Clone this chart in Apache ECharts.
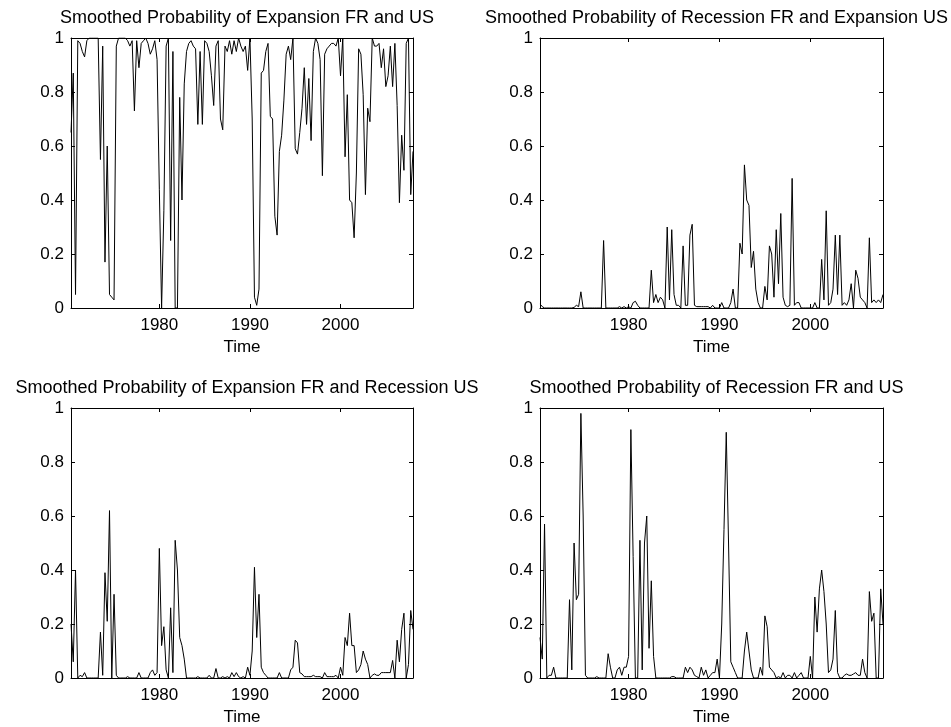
<!DOCTYPE html>
<html>
<head>
<meta charset="utf-8">
<script src="https://cdn.jsdelivr.net/npm/echarts@6/dist/echarts.min.js"></script>
<style>
  html, body { margin: 0; padding: 0; background: #ffffff; }
  #chart { width: 951px; height: 727px; }
</style>
</head>
<body>
<div id="chart"></div>
<script>
// Quarterly smoothed regime probabilities, 1970Q2 .. 2008Q1
const startYear = 1970.25;
const stepYears = 0.25;
const yearTicks = [1980, 1990, 2000];

const titles = [
  'Smoothed Probability of Expansion FR and US',
  'Smoothed Probability of Recession FR and Expansion US',
  'Smoothed Probability of Expansion FR and Recession US',
  'Smoothed Probability of Recession FR and US'
];

const expFRexpUS = [
  0.65, 0.87, 0.05, 0.99, 0.98, 0.95, 0.93, 0.99,
  1.00, 1.00, 1.00, 1.00, 1.00, 0.55, 0.97, 0.17,
  0.60, 0.05, 0.04, 0.03, 0.97, 1.00, 1.00, 1.00,
  1.00, 0.99, 0.97, 0.99, 0.73, 0.99, 0.89, 0.98,
  0.99, 1.00, 0.98, 0.94, 0.96, 0.99, 0.92, 0.44,
  0.00, 0.36, 0.97, 1.00, 0.25, 0.95, 0.00, 0.00,
  0.78, 0.40, 0.83, 0.95, 0.98, 0.99, 0.97, 0.96,
  0.68, 0.95, 0.68, 0.99, 0.98, 0.95, 0.86, 0.75,
  0.97, 0.99, 0.70, 0.66, 0.97, 0.95, 0.99, 0.94,
  0.99, 0.95, 1.00, 0.97, 0.95, 0.97, 0.88, 1.00,
  0.70, 0.04, 0.01, 0.07, 0.87, 0.88, 0.95, 0.98,
  0.71, 0.70, 0.34, 0.27, 0.58, 0.64, 0.77, 0.94,
  0.97, 0.92, 1.00, 0.59, 0.57, 0.65, 0.74, 0.89,
  0.68, 0.85, 0.62, 0.95, 1.00, 0.98, 0.92, 0.49,
  0.94, 0.96, 0.97, 0.98, 0.98, 0.97, 1.00, 0.86,
  1.00, 0.56, 0.79, 0.40, 0.39, 0.26, 0.50, 0.96,
  0.94, 0.79, 0.42, 0.74, 0.69, 1.00, 0.97, 0.97,
  0.98, 0.89, 0.96, 0.82, 0.86, 0.97, 0.82, 0.98,
  0.75, 0.39, 0.64, 0.51, 0.98, 1.00, 0.42, 0.58
];

const recFRexpUS = [
  0.015, 0.005, 0, 0, 0, 0, 0, 0,
  0, 0, 0, 0, 0, 0, 0, 0.002,
  0.01, 0.005, 0.06, 0, 0, 0, 0, 0,
  0, 0, 0, 0, 0.25, 0, 0, 0,
  0, 0, 0, 0.005, 0, 0.005, 0, 0.005,
  0, 0.02, 0.025, 0.01, 0, 0, 0, 0,
  0, 0.14, 0.02, 0.05, 0.02, 0.04, 0.03, 0,
  0.30, 0.03, 0.29, 0.05, 0.01, 0.01, 0, 0.23,
  0.01, 0.01, 0.27, 0.31, 0.01, 0.005, 0.005, 0.005,
  0.005, 0.005, 0.005, 0, 0.01, 0, 0, 0,
  0.02, 0, 0, 0, 0.02, 0.07, 0, 0,
  0.24, 0.20, 0.53, 0.40, 0.38, 0.15, 0.21, 0.07,
  0.02, 0, 0, 0.08, 0.03, 0.23, 0.20, 0.04,
  0.29, 0.09, 0.35, 0.04, 0.01, 0.005, 0.01, 0.48,
  0.01, 0.02, 0.02, 0, 0, 0, 0, 0,
  0, 0.02, 0, 0, 0.18, 0.03, 0.36, 0.01,
  0.02, 0.07, 0.27, 0.05, 0.27, 0.01, 0.02, 0.01,
  0.03, 0.09, 0, 0.14, 0.11, 0.04, 0.03, 0.02,
  0, 0.26, 0.02, 0.03, 0.02, 0.03, 0.02, 0.05
];

const expFRrecUS = [
  0.20, 0.06, 0.40, 0, 0.01, 0.005, 0.02, 0,
  0, 0, 0, 0, 0, 0.17, 0.01, 0.39,
  0.21, 0.62, 0, 0.31, 0.01, 0, 0, 0,
  0, 0.005, 0, 0, 0, 0, 0.02, 0,
  0, 0, 0, 0.02, 0.03, 0.01, 0.02, 0.48,
  0.12, 0.19, 0.03, 0, 0.26, 0.02, 0.51, 0.40,
  0.15, 0.12, 0.07, 0, 0, 0, 0, 0,
  0.005, 0, 0, 0, 0, 0.01, 0, 0,
  0.035, 0, 0, 0.005, 0, 0.005, 0, 0.02,
  0.005, 0.02, 0.005, 0, 0.005, 0, 0.04, 0.01,
  0.10, 0.41, 0.15, 0.31, 0.04, 0.02, 0.01, 0,
  0, 0, 0, 0, 0.02, 0, 0, 0,
  0, 0.03, 0.04, 0.14, 0.13, 0.02, 0.015, 0.005,
  0.005, 0.005, 0.005, 0.01, 0.005, 0.005, 0.005, 0,
  0.02, 0.005, 0.005, 0.005, 0.005, 0.01, 0, 0.04,
  0.01, 0.15, 0.12, 0.24, 0.12, 0.12, 0.02, 0.03,
  0.05, 0.10, 0.07, 0.05, 0, 0.01, 0.015, 0.01,
  0.01, 0.02, 0.02, 0.02, 0.02, 0.02, 0.065, 0,
  0.14, 0.06, 0.18, 0.24, 0, 0.05, 0.25, 0.18
];

const recFRrecUS = [
  0.15, 0.07, 0.57, 0, 0.01, 0.01, 0.04, 0,
  0, 0, 0, 0, 0, 0.29, 0.03, 0.50,
  0.29, 0.31, 0.98, 0.60, 0.01, 0, 0, 0,
  0, 0.005, 0, 0, 0, 0, 0.09, 0.04,
  0, 0, 0.03, 0.04, 0.01, 0.04, 0.04, 0.08,
  0.92, 0.45, 0, 0, 0.51, 0.03, 0.50, 0.60,
  0.11, 0.36, 0.08, 0, 0, 0, 0, 0,
  0, 0, 0.005, 0.005, 0, 0, 0, 0,
  0.04, 0.02, 0.04, 0.03, 0.01, 0.005, 0, 0.04,
  0.01, 0.03, 0, 0.01, 0.02, 0.02, 0.07, 0,
  0.20, 0.55, 0.91, 0.50, 0.06, 0.04, 0.02, 0,
  0, 0, 0.10, 0.17, 0.10, 0.03, 0, 0,
  0, 0.04, 0.01, 0.23, 0.19, 0.04, 0.03, 0.02,
  0, 0.005, 0, 0.02, 0, 0.01, 0.01, 0,
  0.02, 0, 0.01, 0.02, 0, 0, 0, 0.08,
  0, 0.30, 0.17, 0.33, 0.40, 0.32, 0.20, 0.02,
  0.03, 0.07, 0.25, 0.02, 0, 0, 0.01, 0.015,
  0.01, 0.01, 0.015, 0.02, 0.01, 0.01, 0.07, 0.02,
  0, 0.32, 0.21, 0.24, 0, 0, 0.33, 0.20
];

const panelSeries = [expFRexpUS, recFRexpUS, expFRrecUS, recFRrecUS];

// subplot boxes (pixels)
const boxes = [
  { left: 71,  top: 38,  width: 342, height: 270 },
  { left: 540, top: 38,  width: 343, height: 270 },
  { left: 71,  top: 408, width: 342, height: 270 },
  { left: 540, top: 408, width: 343, height: 270 }
];

const FONT = '"Liberation Sans", Arial, Helvetica, sans-serif';
const INK = '#000000';

const toPairs = arr => arr.map((v, i) => [startYear + i * stepYears, v]);
const yFmt = v => (v === 0 ? '0' : v === 1 ? '1' : v.toFixed(1));

const grid = [], xAxis = [], yAxis = [], series = [], title = [];

boxes.forEach((b, k) => {
  grid.push({ left: b.left, top: b.top, width: b.width, height: b.height,
              containLabel: false, show: false });

  const xBase = {
    type: 'value', gridIndex: k, min: startYear,
    max: startYear + (panelSeries[k].length - 1) * stepYears,
    splitLine: { show: false },
    axisLine: { show: true, onZero: false, lineStyle: { color: INK, width: 1 } },
    axisTick: { show: true, inside: true, length: 4, customValues: yearTicks,
                lineStyle: { color: INK, width: 1 } }
  };
  xAxis.push(Object.assign({}, xBase, {
    position: 'bottom',
    name: 'Time', nameLocation: 'middle', nameGap: 31,
    nameTextStyle: { color: INK, fontFamily: FONT, fontSize: 17 },
    axisLabel: { show: true, customValues: yearTicks, margin: 9,
                 color: INK, fontFamily: FONT, fontSize: 17,
                 formatter: v => String(v) }
  }));
  xAxis.push(Object.assign({}, xBase, {
    position: 'top', axisLabel: { show: false }
  }));

  const yBase = {
    type: 'value', gridIndex: k, min: 0, max: 1, interval: 0.2,
    splitLine: { show: false },
    axisLine: { show: true, onZero: false, lineStyle: { color: INK, width: 1 } },
    axisTick: { show: true, inside: true, length: 4, lineStyle: { color: INK, width: 1 } }
  };
  yAxis.push(Object.assign({}, yBase, {
    position: 'left',
    axisLabel: { show: true, margin: 7, color: INK, fontFamily: FONT,
                 fontSize: 17, formatter: yFmt }
  }));
  yAxis.push(Object.assign({}, yBase, {
    position: 'right', axisLabel: { show: false }
  }));

  series.push({
    type: 'line', xAxisIndex: 2 * k, yAxisIndex: 2 * k,
    data: toPairs(panelSeries[k]),
    showSymbol: false, symbol: 'none', smooth: false,
    lineStyle: { color: INK, width: 1 },
    animation: false, silent: true
  });

  title.push({
    text: titles[k],
    left: b.left + b.width / 2, top: b.top - 34, textAlign: 'center',
    textStyle: { color: INK, fontFamily: FONT, fontSize: 18, fontWeight: 'normal' }
  });
});

const chart = echarts.init(document.getElementById('chart'), null, { renderer: 'canvas' });
chart.setOption({
  backgroundColor: '#ffffff',
  animation: false,
  title, grid, xAxis, yAxis, series
});
</script>
</body>
</html>
